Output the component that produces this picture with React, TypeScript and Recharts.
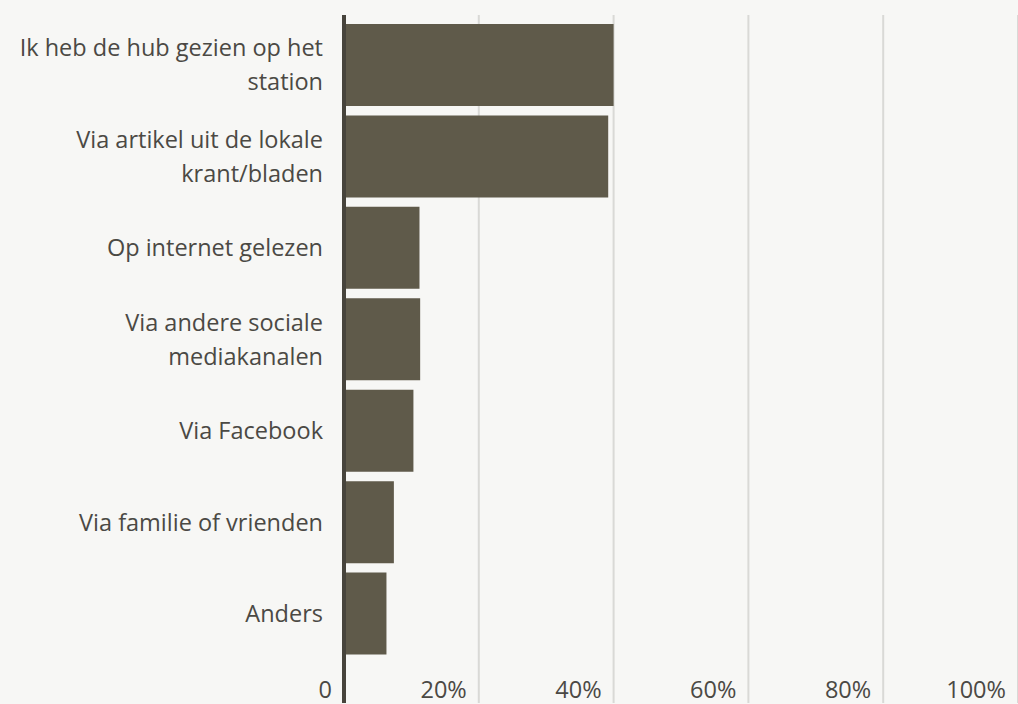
import { BarChart, Bar, XAxis, YAxis, CartesianGrid } from "recharts";

const CATEGORIES = [
  "Ik heb de hub gezien op het\nstation",
  "Via artikel uit de lokale\nkrant/bladen",
  "Op internet gelezen",
  "Via andere sociale\nmediakanalen",
  "Via Facebook",
  "Via familie of vrienden",
  "Anders",
];
const SHARE = [40, 39.2, 11.2, 11.3, 10.3, 7.4, 6.3];
const X_TICKS = [0, 20, 40, 60, 80, 100];

const FONT = "'Open Sans', Lato, sans-serif";
const TEXT = "#4b4944";

const data = CATEGORIES.map((c, i) => ({ name: c, value: SHARE[i] }));

function CategoryTick({ x, y, payload }: any) {
  const lines = String(payload.value).split("\n");
  const lh = 34;
  return (
    <text x={x} y={y} textAnchor="end" fill={TEXT} fontFamily={FONT} fontSize={23.5}>
      {lines.map((l, i) => (
        <tspan key={i} x={x} y={y + (i - (lines.length - 1) / 2) * lh} dy="0.35em">
          {l}
        </tspan>
      ))}
    </text>
  );
}

function ValueTick({ x, payload }: any) {
  const v = payload.value;
  return (
    <text x={x - 12} y={698} textAnchor="end" fill={TEXT} fontFamily={FONT} fontSize={23.5}>
      {v === 0 ? "0" : `${v}%`}
    </text>
  );
}

export default function App() {
  return (
    <div
      style={{
        position: "fixed",
        left: 0,
        top: 0,
        width: 1018,
        height: 704,
        background: "#f7f7f5",
        overflow: "hidden",
      }}
    >
      <BarChart
        width={1018}
        height={704}
        data={data}
        layout="vertical"
        margin={{ top: 15, right: 0, bottom: 0, left: 0 }}
        barCategoryGap={4.5}
      >
        <CartesianGrid horizontal={false} stroke="#d9d9d6" strokeWidth={2} />
        <XAxis
          type="number"
          domain={[0, 100]}
          ticks={X_TICKS}
          height={1}
          axisLine={false}
          tickLine={false}
          tickSize={0}
          tickMargin={0}
          tick={<ValueTick />}
          interval={0}
        />
        <YAxis
          type="category"
          dataKey="name"
          width={344}
          padding={{ top: 4.5, bottom: 43.5 }}
          axisLine={{ stroke: "#47443c", strokeWidth: 4 }}
          tickLine={false}
          tickSize={0}
          tickMargin={21}
          tick={<CategoryTick />}
          interval={0}
        />
        <Bar dataKey="value" fill="#5f5a4a" isAnimationActive={false} />
      </BarChart>
    </div>
  );
}
